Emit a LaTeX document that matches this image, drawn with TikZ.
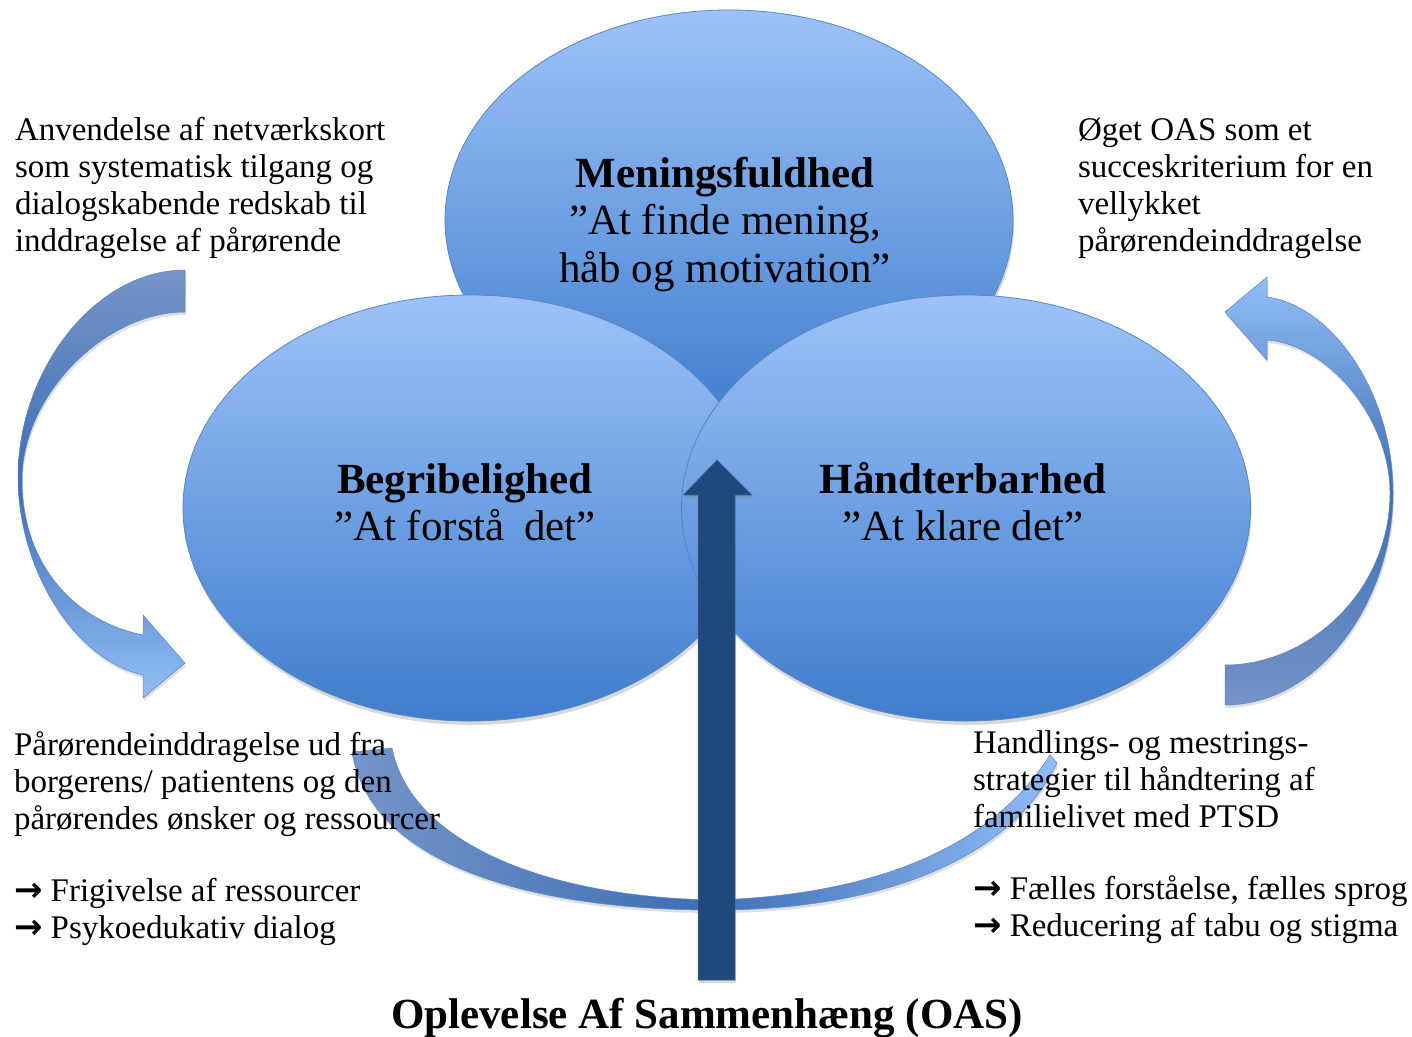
\documentclass[tikz,border=0pt]{standalone}
\usepackage{fontspec}
\setmainfont{Liberation Serif}
\newfontfamily\arrowfont{DejaVu Sans}
\usetikzlibrary{shapes.geometric,shadows}

\definecolor{ellTop}{HTML}{9DC2F9}
\definecolor{ellBot}{HTML}{3F7DCC}
\definecolor{ellLine}{HTML}{5586C6}
\definecolor{bigArrow}{HTML}{1F497D}
\definecolor{arrGrey}{HTML}{7594C8}
\definecolor{arrDark}{HTML}{3E6FB5}
\definecolor{arrLight}{HTML}{92BDF7}
\definecolor{arrEdge}{HTML}{5A86C2}

\begin{document}
\begin{tikzpicture}[x=1pt,y=-1pt,
  bubble/.style={ellipse, draw=ellLine, line width=0.8pt, top color=ellTop,
    bottom color=ellBot, inner sep=0pt,
    drop shadow={opacity=0.3, shadow xshift=1pt, shadow yshift=-4pt}},
  curvarr/.style={draw=arrEdge, line width=0.5pt,
    drop shadow={opacity=0.25, shadow xshift=1pt, shadow yshift=-3pt}},
  txt/.style={inner sep=0pt, outer sep=0pt},
  sidetext/.style={txt, anchor=base west, font=\fontsize{33}{37}\selectfont},
  centertext/.style={txt, anchor=base, font=\fontsize{43}{47.5}\selectfont},
]
\useasboundingbox (0,0) rectangle (1412,1036);
\fill[white] (0,0) rectangle (1412,1036);

% curved arrows (behind ellipses)
\path[curvarr, top color=arrGrey, bottom color=arrLight, middle color=arrDark]
  (185,270) .. controls (95,270) and (18,370) .. (18,477)
  .. controls (18,570) and (75,660) .. (143,675)
  -- (143,698) -- (185,663) -- (143,615) -- (143,635)
  .. controls (70,620) and (22,560) .. (22,480)
  .. controls (22,395) and (105,312) .. (185,312) -- cycle;

\path[curvarr, top color=arrLight, bottom color=arrGrey, middle color=arrDark]
  (1225,705) .. controls (1320,705) and (1393,600) .. (1393,493)
  .. controls (1393,390) and (1330,305) .. (1267,297)
  -- (1267,277) -- (1225,312) -- (1267,360) -- (1267,340)
  .. controls (1330,345) and (1390,420) .. (1390,493)
  .. controls (1390,590) and (1310,665) .. (1225,665) -- cycle;

\path[curvarr, left color=arrGrey, right color=arrLight, middle color=arrDark]
  (352,752) .. controls (370,860) and (520,910) .. (715,910)
  .. controls (880,910) and (1010,860) .. (1057,763)
  -- (1050,755)
  .. controls (990,850) and (870,895) .. (715,900)
  .. controls (540,897) and (410,840) .. (392,748) -- cycle;

% ellipses
\node[bubble, minimum width=568pt, minimum height=420pt] (top) at (729,220) {};
\node[bubble, minimum width=574pt, minimum height=426pt] (left) at (470,508) {};
\node[bubble, minimum width=569pt, minimum height=426pt] (right) at (966,508) {};

% big central arrow
\path[fill=bigArrow, draw=bigArrow!80!white, line width=0.5pt,
  drop shadow={opacity=0.3, shadow xshift=1pt, shadow yshift=-3pt}]
  (698,980) -- (698,495) -- (683,495) -- (717,460) -- (752,495)
  -- (735,495) -- (735,980) -- cycle;

% texts in ellipses
\node[centertext] (mtxt) at (725,187)
  {\parbox[t]{460pt}{\centering\textbf{Meningsfuldhed}\\”At finde mening,\\håb og motivation”}};
\node[centertext] (btxt) at (465,493)
  {\parbox[t]{400pt}{\centering\textbf{Begribelighed}\\”At forstå\hspace{0.45em}det”}};
\node[centertext] (htxt) at (963,493)
  {\parbox[t]{400pt}{\centering\textbf{Håndterbarhed}\\”At klare det”}};

% side texts
\node[sidetext] (tl) at (15,140)
  {\parbox[t]{440pt}{Anvendelse af netværkskort\\som systematisk tilgang og\\dialogskabende redskab til\\inddragelse af pårørende}};
\node[sidetext] (tr) at (1078,140)
  {\parbox[t]{340pt}{Øget OAS som et\\succeskriterium for en\\vellykket\\pårørendeinddragelse}};
\node[sidetext] (bl) at (14,755)
  {\parbox[t]{460pt}{Pårørendeinddragelse ud fra\\borgerens/ patientens og den\\pårørendes ønsker og ressourcer\\[35pt]{\arrowfont\bfseries\fontsize{34}{37}\selectfont →} Frigivelse af ressourcer\\{\arrowfont\bfseries\fontsize{34}{37}\selectfont →} Psykoedukativ dialog}};
\node[sidetext] (br) at (973,753)
  {\parbox[t]{440pt}{Handlings- og mestrings-\\strategier til håndtering af\\familielivet med PTSD\\[35pt]{\arrowfont\bfseries\fontsize{34}{37}\selectfont →} Fælles forståelse, fælles sprog\\{\arrowfont\bfseries\fontsize{34}{37}\selectfont →} Reducering af tabu og stigma}};

% bottom title
\node[txt, anchor=base, font=\fontsize{43}{48}\selectfont\bfseries] (title) at (707,1028)
  {Oplevelse Af Sammenhæng (OAS)};
\end{tikzpicture}
\end{document}
